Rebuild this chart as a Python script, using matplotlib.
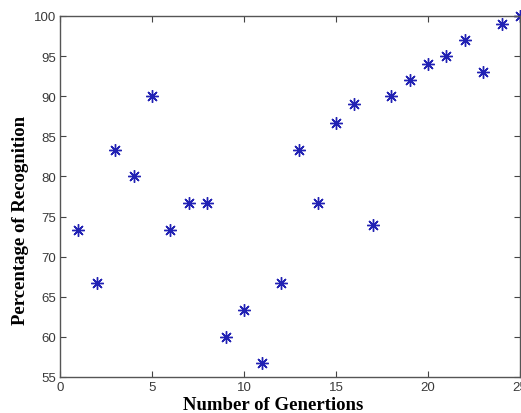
import matplotlib
matplotlib.use("Agg")
import matplotlib.pyplot as plt

generations = list(range(1, 26))
recognition = [73.3, 66.7, 83.3, 80.0, 90.0, 73.3, 76.7, 76.7, 60.0, 63.3,
               56.7, 66.7, 83.3, 76.7, 86.7, 89.0, 74.0, 90.0, 92.0, 94.0,
               95.0, 97.0, 93.0, 99.0, 100.0]
xticks = [0, 5, 10, 15, 20, 25]
yticks = [55, 60, 65, 70, 75, 80, 85, 90, 95, 100]

W, H = 521, 414
fig = plt.figure(figsize=(W / 100, H / 100), dpi=100)
ax = fig.add_axes([60 / W, (H - 378) / H, (520 - 60) / W, (378 - 17) / H])

ax.plot(generations, recognition, linestyle='none', marker=(8, 2, 0),
        markersize=9, markeredgewidth=1.0, color='#2222b4', clip_on=False)

ax.set_xlim(0, 25)
ax.set_ylim(55, 100)
ax.set_xticks(xticks)
ax.set_yticks(yticks)
ax.tick_params(direction='in', length=4, width=0.8, top=True, right=True,
               labelsize=9.5, labelcolor='#3a3a3a', color='#444444', pad=3)
for lab in ax.get_xticklabels() + ax.get_yticklabels():
    lab.set_family('Liberation Sans')
for s in ax.spines.values():
    s.set_color('#555555')
    s.set_linewidth(1.0)

ax.set_xlabel('Number of Genertions', family='Liberation Serif',
              fontweight='bold', fontsize=13.5)
ax.set_ylabel('Percentage of Recognition', family='Liberation Serif',
              fontweight='bold', fontsize=13.5)
ax.xaxis.set_label_coords(0.463, -0.052)
ax.yaxis.set_label_coords(-0.068, 0.4377)

fig.savefig('out.png', dpi=100)
